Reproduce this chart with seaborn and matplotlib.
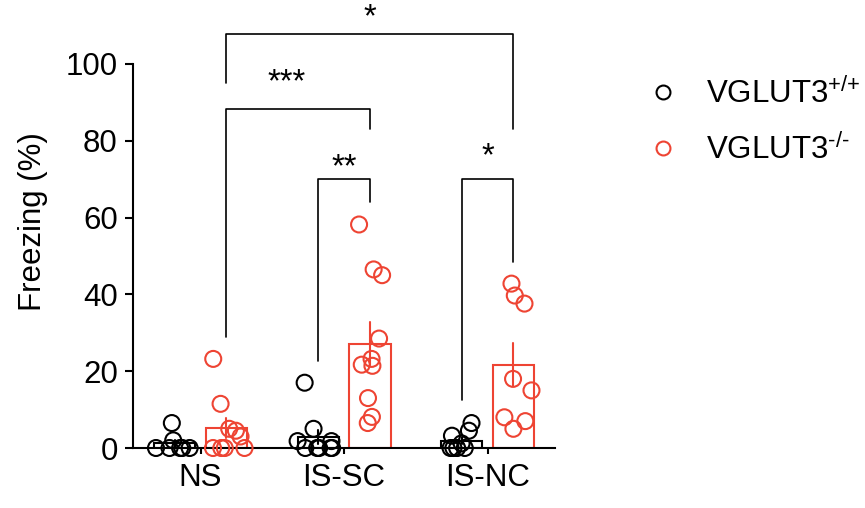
import numpy as np
import pandas as pd
import matplotlib
matplotlib.use('Agg')
import matplotlib.pyplot as plt
from matplotlib.lines import Line2D
import seaborn as sns

# values (Freezing %)
conditions = ['NS', 'IS-SC', 'IS-NC']
genotypes = ['VGLUT3+/+', 'VGLUT3-/-']
legend_labels = [r'VGLUT3$^{\text{+/+}}$', r'VGLUT3$^{\text{-/-}}$']

ns_wt = [0, 0, 0, 0, 0, 2, 6.5]
ns_ko = [23.2, 11.5, 5, 4.5, 3, 0, 0, 0, 0]
sc_wt = [17, 5, 1.8, 1.8, 0, 0, 0, 0, 0]
sc_ko = [58.2, 46.5, 45, 28.5, 23.2, 21.7, 21.4, 13, 8.1, 6.5]
nc_wt = [6.5, 4.5, 3.2, 1.2, 0, 0, 0, 0]
nc_ko = [42.8, 39.7, 37.6, 18, 15, 8, 7, 5]

# (left bar, right bar, bracket height, left leg end, right leg end, label, label y, label pos)
brackets = [
    (1, 5, 107.8, 95, 83, '*', 109.8, 0.5),
    (1, 3, 88.3, 29, 83, '***', 92.8, 0.42),
    (2, 3, 70, 22.7, 64, '**', 70.8, 0.5),
    (4, 5, 70, 12.5, 48.5, '*', 73.6, 0.5),
]

colors = ['black', '#EE4433']
fs = 22.5

groups = [(conditions[0], genotypes[0], ns_wt), (conditions[0], genotypes[1], ns_ko),
          (conditions[1], genotypes[0], sc_wt), (conditions[1], genotypes[1], sc_ko),
          (conditions[2], genotypes[0], nc_wt), (conditions[2], genotypes[1], nc_ko)]
rows = []
for cond, geno, vals in groups:
    for v in vals:
        rows.append({'condition': cond, 'genotype': geno, 'freezing': v})
df = pd.DataFrame(rows)

sns.set_style('ticks')
plt.rcParams['font.family'] = ['Liberation Sans', 'DejaVu Sans']
plt.rcParams['mathtext.fontset'] = 'custom'
plt.rcParams['mathtext.rm'] = 'Liberation Sans'
plt.rcParams['text.color'] = 'black'
plt.rcParams['axes.labelcolor'] = 'black'

fig = plt.figure(figsize=(8.65, 5.08), dpi=100)
ax = fig.add_axes([0.1538, 0.1181, 0.4879, 0.756])

sns.barplot(data=df, x='condition', y='freezing', hue='genotype', order=conditions,
            hue_order=genotypes, palette=colors, fill=False, linewidth=1.5,
            width=0.72, gap=0.2, errorbar='se', err_kws={'linewidth': 1.5},
            legend=False, ax=ax)

bars = sorted(ax.patches, key=lambda p: p.get_x())
centers = [p.get_x() + p.get_width() / 2 for p in bars]

# colour each error bar like its bar
for ln in ax.lines:
    x = ln.get_xdata()[0]
    i = int(np.argmin([abs(c - x) for c in centers]))
    ln.set_color(bars[i].get_edgecolor())

np.random.seed(7)
sns.stripplot(data=df, x='condition', y='freezing', hue='genotype', order=conditions,
              hue_order=genotypes, palette=colors, dodge=True, jitter=0.26,
              size=11.5, linewidth=1.5, legend=False, ax=ax)
for coll in ax.collections:
    fc = coll.get_facecolors()
    coll.set_edgecolors(fc)
    coll.set_facecolors('none')
    coll.set_clip_on(False)
    coll.set_zorder(3)

for a, b, y, ya, yb, lab, ty, frac in brackets:
    xa, xb = centers[a], centers[b]
    ax.plot([xa, xa, xb, xb], [ya, y, y, yb], color='black', lw=1.2, clip_on=False)
    ax.text(xa + frac * (xb - xa), ty, lab, ha='center', va='baseline', fontsize=23.5)

ax.set_xlim(-0.47, 2.47)
ax.set_ylim(0, 100)
ax.set_yticks([0, 20, 40, 60, 80, 100])
ax.set_xlabel('')
ax.set_ylabel('Freezing (%)', fontsize=fs, labelpad=13)
ax.yaxis.label.set_y(0.589)
ax.tick_params(axis='both', labelsize=fs, width=1.5, colors='black')
ax.tick_params(axis='y', length=6, pad=5)
ax.tick_params(axis='x', length=4, pad=7)
sns.despine(ax=ax)
for s in ['left', 'bottom']:
    ax.spines[s].set_linewidth(1.5)
    ax.spines[s].set_color('black')

handles = [Line2D([], [], ls='none', marker='o', markersize=10, markerfacecolor='none',
                  markeredgecolor=c, markeredgewidth=1.5) for c in colors]
fig.legend(handles, legend_labels, loc='upper left', bbox_to_anchor=(0.75, 0.847),
           frameon=False, fontsize=fs, handlelength=0.93, handletextpad=0.9,
           labelspacing=0.77, borderaxespad=0, borderpad=0)

fig.savefig('out.png', dpi=100)
